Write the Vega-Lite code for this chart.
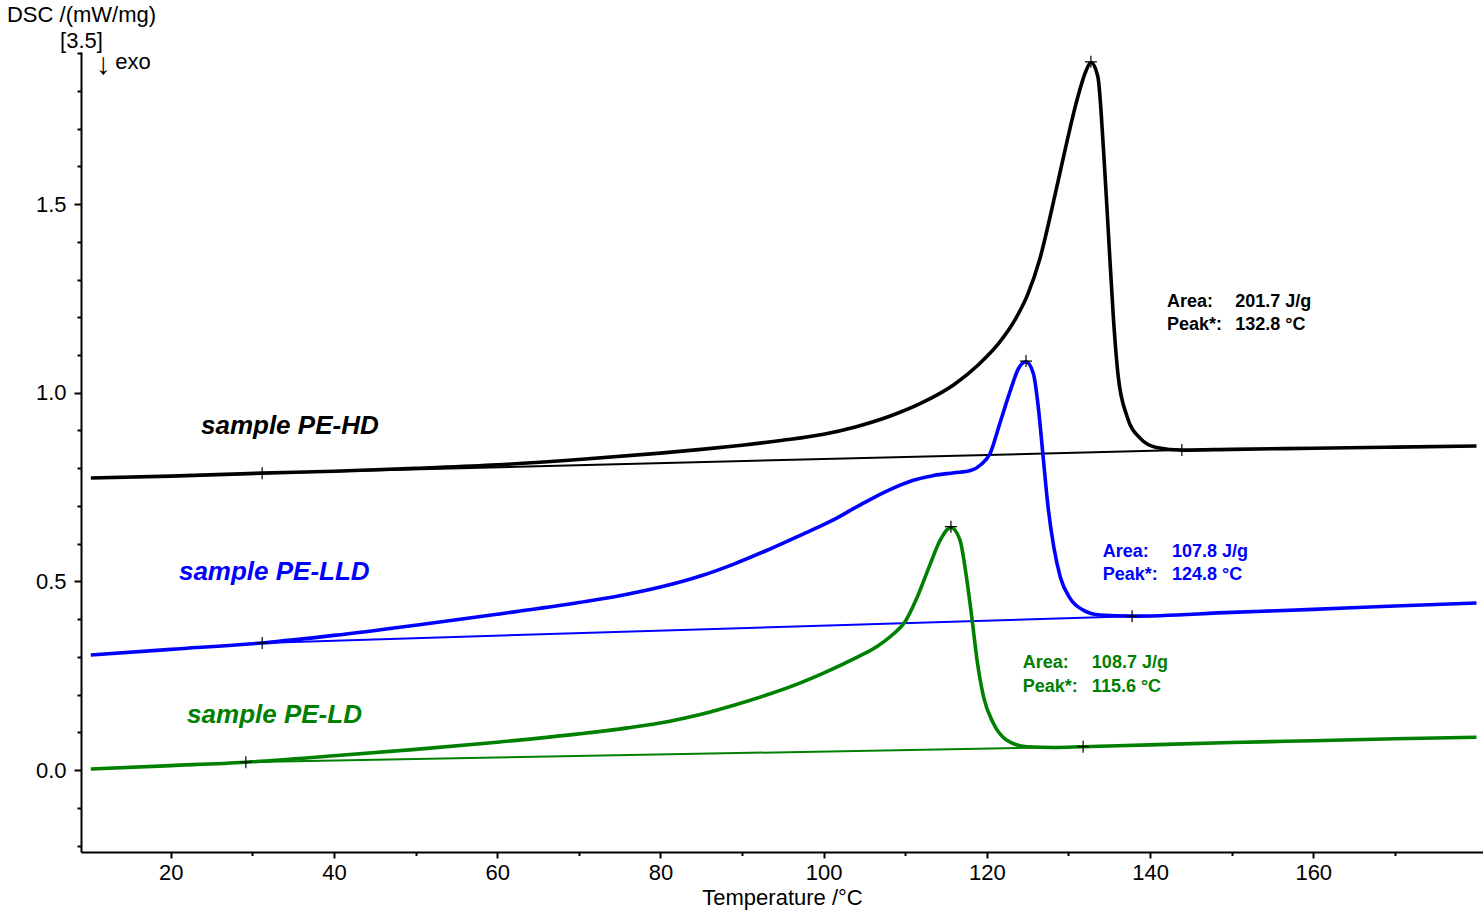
{
  "$schema": "https://vega.github.io/schema/vega-lite/v6.json",
  "width": 1402,
  "height": 800,
  "autosize": {"type": "none"},
  "padding": {"left": 81, "top": 52, "right": 0, "bottom": 59},
  "background": "white",
  "config": {"view": {"stroke": null}, "font": "Liberation Sans"},
  "datasets": {
    "curves": [
      {"series": "PE-HD", "T": 10.2, "V": 0.774},
      {"series": "PE-HD", "T": 20, "V": 0.779},
      {"series": "PE-HD", "T": 31.2, "V": 0.787},
      {"series": "PE-HD", "T": 40, "V": 0.792},
      {"series": "PE-HD", "T": 50, "V": 0.800},
      {"series": "PE-HD", "T": 60, "V": 0.809},
      {"series": "PE-HD", "T": 70, "V": 0.823},
      {"series": "PE-HD", "T": 80, "V": 0.840},
      {"series": "PE-HD", "T": 85, "V": 0.850},
      {"series": "PE-HD", "T": 90, "V": 0.861},
      {"series": "PE-HD", "T": 95, "V": 0.874},
      {"series": "PE-HD", "T": 100, "V": 0.890},
      {"series": "PE-HD", "T": 104, "V": 0.910},
      {"series": "PE-HD", "T": 108, "V": 0.937},
      {"series": "PE-HD", "T": 112, "V": 0.973},
      {"series": "PE-HD", "T": 116, "V": 1.022},
      {"series": "PE-HD", "T": 119, "V": 1.075},
      {"series": "PE-HD", "T": 121.5, "V": 1.132},
      {"series": "PE-HD", "T": 123.5, "V": 1.195},
      {"series": "PE-HD", "T": 125, "V": 1.260},
      {"series": "PE-HD", "T": 126.5, "V": 1.355},
      {"series": "PE-HD", "T": 128, "V": 1.490},
      {"series": "PE-HD", "T": 129.5, "V": 1.635},
      {"series": "PE-HD", "T": 131.0, "V": 1.772},
      {"series": "PE-HD", "T": 132.1, "V": 1.850},
      {"series": "PE-HD", "T": 132.75, "V": 1.875},
      {"series": "PE-HD", "T": 133.6, "V": 1.838},
      {"series": "PE-HD", "T": 134.3, "V": 1.643},
      {"series": "PE-HD", "T": 134.9, "V": 1.422},
      {"series": "PE-HD", "T": 135.5, "V": 1.201},
      {"series": "PE-HD", "T": 136.1, "V": 1.043},
      {"series": "PE-HD", "T": 137.2, "V": 0.936},
      {"series": "PE-HD", "T": 138.8, "V": 0.879},
      {"series": "PE-HD", "T": 140.8, "V": 0.855},
      {"series": "PE-HD", "T": 143.9, "V": 0.848},
      {"series": "PE-HD", "T": 150, "V": 0.850},
      {"series": "PE-HD", "T": 160, "V": 0.853},
      {"series": "PE-HD", "T": 170, "V": 0.856},
      {"series": "PE-HD", "T": 180, "V": 0.859},

      {"series": "PE-LLD", "T": 10.2, "V": 0.305},
      {"series": "PE-LLD", "T": 20, "V": 0.320},
      {"series": "PE-LLD", "T": 31.2, "V": 0.337},
      {"series": "PE-LLD", "T": 40, "V": 0.357},
      {"series": "PE-LLD", "T": 50, "V": 0.384},
      {"series": "PE-LLD", "T": 60, "V": 0.413},
      {"series": "PE-LLD", "T": 70, "V": 0.444},
      {"series": "PE-LLD", "T": 75, "V": 0.462},
      {"series": "PE-LLD", "T": 80, "V": 0.485},
      {"series": "PE-LLD", "T": 85, "V": 0.515},
      {"series": "PE-LLD", "T": 89, "V": 0.546},
      {"series": "PE-LLD", "T": 93, "V": 0.582},
      {"series": "PE-LLD", "T": 97, "V": 0.621},
      {"series": "PE-LLD", "T": 101, "V": 0.661},
      {"series": "PE-LLD", "T": 104.5, "V": 0.703},
      {"series": "PE-LLD", "T": 108, "V": 0.742},
      {"series": "PE-LLD", "T": 111, "V": 0.768},
      {"series": "PE-LLD", "T": 113.5, "V": 0.781},
      {"series": "PE-LLD", "T": 116, "V": 0.788},
      {"series": "PE-LLD", "T": 118, "V": 0.794},
      {"series": "PE-LLD", "T": 119.3, "V": 0.810},
      {"series": "PE-LLD", "T": 120.4, "V": 0.839},
      {"series": "PE-LLD", "T": 121.6, "V": 0.919},
      {"series": "PE-LLD", "T": 122.9, "V": 1.007},
      {"series": "PE-LLD", "T": 123.9, "V": 1.065},
      {"series": "PE-LLD", "T": 124.8, "V": 1.082},
      {"series": "PE-LLD", "T": 125.7, "V": 1.051},
      {"series": "PE-LLD", "T": 126.3, "V": 0.963},
      {"series": "PE-LLD", "T": 126.9, "V": 0.830},
      {"series": "PE-LLD", "T": 127.5, "V": 0.698},
      {"series": "PE-LLD", "T": 128.2, "V": 0.592},
      {"series": "PE-LLD", "T": 129.0, "V": 0.512},
      {"series": "PE-LLD", "T": 130.2, "V": 0.455},
      {"series": "PE-LLD", "T": 131.8, "V": 0.424},
      {"series": "PE-LLD", "T": 133.9, "V": 0.411},
      {"series": "PE-LLD", "T": 137.8, "V": 0.408},
      {"series": "PE-LLD", "T": 150, "V": 0.418},
      {"series": "PE-LLD", "T": 160, "V": 0.426},
      {"series": "PE-LLD", "T": 170, "V": 0.435},
      {"series": "PE-LLD", "T": 180, "V": 0.443},

      {"series": "PE-LD", "T": 10.2, "V": 0.003},
      {"series": "PE-LD", "T": 20, "V": 0.012},
      {"series": "PE-LD", "T": 29.2, "V": 0.021},
      {"series": "PE-LD", "T": 40, "V": 0.038},
      {"series": "PE-LD", "T": 50, "V": 0.055},
      {"series": "PE-LD", "T": 60, "V": 0.074},
      {"series": "PE-LD", "T": 70, "V": 0.096},
      {"series": "PE-LD", "T": 76, "V": 0.112},
      {"series": "PE-LD", "T": 81, "V": 0.129},
      {"series": "PE-LD", "T": 85, "V": 0.148},
      {"series": "PE-LD", "T": 89, "V": 0.172},
      {"series": "PE-LD", "T": 93, "V": 0.199},
      {"series": "PE-LD", "T": 97, "V": 0.230},
      {"series": "PE-LD", "T": 101, "V": 0.267},
      {"series": "PE-LD", "T": 104, "V": 0.298},
      {"series": "PE-LD", "T": 106.5, "V": 0.327},
      {"series": "PE-LD", "T": 108.5, "V": 0.360},
      {"series": "PE-LD", "T": 110, "V": 0.394},
      {"series": "PE-LD", "T": 111.4, "V": 0.455},
      {"series": "PE-LD", "T": 113.1, "V": 0.548},
      {"series": "PE-LD", "T": 114.3, "V": 0.610},
      {"series": "PE-LD", "T": 115.6, "V": 0.643},
      {"series": "PE-LD", "T": 116.7, "V": 0.610},
      {"series": "PE-LD", "T": 117.5, "V": 0.512},
      {"series": "PE-LD", "T": 118.2, "V": 0.398},
      {"series": "PE-LD", "T": 118.8, "V": 0.292},
      {"series": "PE-LD", "T": 119.6, "V": 0.194},
      {"series": "PE-LD", "T": 120.8, "V": 0.124},
      {"series": "PE-LD", "T": 122.4, "V": 0.080},
      {"series": "PE-LD", "T": 124.9, "V": 0.062},
      {"series": "PE-LD", "T": 128.2, "V": 0.060},
      {"series": "PE-LD", "T": 131.8, "V": 0.062},
      {"series": "PE-LD", "T": 140, "V": 0.067},
      {"series": "PE-LD", "T": 150, "V": 0.073},
      {"series": "PE-LD", "T": 160, "V": 0.078},
      {"series": "PE-LD", "T": 170, "V": 0.083},
      {"series": "PE-LD", "T": 180, "V": 0.087}
    ],
    "baselines": [
      {"series": "PE-HD", "T": 31.2, "V": 0.787},
      {"series": "PE-HD", "T": 143.9, "V": 0.848},
      {"series": "PE-LLD", "T": 31.2, "V": 0.337},
      {"series": "PE-LLD", "T": 137.8, "V": 0.408},
      {"series": "PE-LD", "T": 29.2, "V": 0.021},
      {"series": "PE-LD", "T": 131.8, "V": 0.062}
    ],
    "markers": [
      {"series": "PE-HD", "T": 31.2, "V": 0.787},
      {"series": "PE-HD", "T": 132.75, "V": 1.877},
      {"series": "PE-HD", "T": 143.9, "V": 0.848},
      {"series": "PE-LLD", "T": 31.2, "V": 0.337},
      {"series": "PE-LLD", "T": 124.8, "V": 1.084},
      {"series": "PE-LLD", "T": 137.8, "V": 0.408},
      {"series": "PE-LD", "T": 29.2, "V": 0.021},
      {"series": "PE-LD", "T": 115.6, "V": 0.645},
      {"series": "PE-LD", "T": 131.8, "V": 0.062}
    ],
    "samples": [
      {"series": "PE-HD", "text": "sample PE-HD", "T": 23.7, "V": 0.890},
      {"series": "PE-LLD", "text": "sample PE-LLD", "T": 21.0, "V": 0.504},
      {"series": "PE-LD", "text": "sample PE-LD", "T": 22.0, "V": 0.125}
    ],
    "annotations": [
      {"series": "PE-HD", "text": "Area:", "T": 142.07, "V": 1.226},
      {"series": "PE-HD", "text": "201.7 J/g", "T": 150.44, "V": 1.226},
      {"series": "PE-HD", "text": "Peak*:", "T": 142.07, "V": 1.166},
      {"series": "PE-HD", "text": "132.8 °C", "T": 150.44, "V": 1.166},
      {"series": "PE-LLD", "text": "Area:", "T": 134.2, "V": 0.565},
      {"series": "PE-LLD", "text": "107.8 J/g", "T": 142.68, "V": 0.565},
      {"series": "PE-LLD", "text": "Peak*:", "T": 134.2, "V": 0.505},
      {"series": "PE-LLD", "text": "124.8 °C", "T": 142.68, "V": 0.505},
      {"series": "PE-LD", "text": "Area:", "T": 124.4, "V": 0.2695},
      {"series": "PE-LD", "text": "108.7 J/g", "T": 132.87, "V": 0.2695},
      {"series": "PE-LD", "text": "Peak*:", "T": 124.4, "V": 0.2076},
      {"series": "PE-LD", "text": "115.6 °C", "T": 132.87, "V": 0.2076}
    ],
    "exo": [
      {"text": "exo", "T": 13.2, "V": 1.858}
    ],
    "arrow": [
      {"text": "↓", "T": 10.8, "V": 1.845}
    ]
  },
  "encoding": {
    "x": {
      "field": "T",
      "type": "quantitative",
      "scale": {"domain": [9, 180.8], "nice": false, "zero": false},
      "axis": {
        "values": [20, 30, 40, 50, 60, 70, 80, 90, 100, 110, 120, 130, 140, 150, 160, 170],
        "labelExpr": "datum.value % 20 === 0 ? datum.label : ''",
        "tickSize": {"condition": {"test": "datum.value % 20 === 0", "value": 6}, "value": 3.5},
        "grid": false,
        "domainColor": "black",
        "domainWidth": 2,
        "tickColor": "black",
        "tickWidth": 2,
        "labelFontSize": 22,
        "labelFont": "Liberation Sans",
        "labelColor": "black",
        "labelPadding": 4,
        "labelOverlap": false,
        "labelFlush": false,
        "title": "Temperature /°C",
        "titleFont": "Liberation Sans",
        "titleFontSize": 22,
        "titleFontWeight": "normal",
        "titleColor": "black",
        "titlePadding": 4
      }
    },
    "y": {
      "field": "V",
      "type": "quantitative",
      "scale": {"domain": [-0.217, 1.903], "nice": false, "zero": false},
      "axis": {
        "values": [-0.2, -0.1, 0, 0.1, 0.2, 0.3, 0.4, 0.5, 0.6, 0.7, 0.8, 0.9, 1.0, 1.1, 1.2, 1.3, 1.4, 1.5, 1.6, 1.7, 1.8, 1.9],
        "labelExpr": "abs(datum.value*2 - round(datum.value*2)) < 0.001 ? format(datum.value, '.1f') : ''",
        "tickSize": {"condition": {"test": "abs(datum.value*2 - round(datum.value*2)) < 0.001", "value": 7}, "value": 4},
        "grid": false,
        "domainColor": "black",
        "domainWidth": 2,
        "tickColor": "black",
        "tickWidth": 2,
        "labelFontSize": 22,
        "labelFont": "Liberation Sans",
        "labelColor": "black",
        "labelPadding": 8,
        "labelOverlap": false,
        "labelFlush": false,
        "title": ["DSC /(mW/mg)", "[3.5]"],
        "titleAngle": 0,
        "titleAlign": "center",
        "titleBaseline": "alphabetic",
        "titleX": 0,
        "titleY": -31,
        "titleFont": "Liberation Sans",
        "titleFontSize": 22,
        "titleFontWeight": "normal",
        "titleLineHeight": 26,
        "titleColor": "black"
      }
    }
  },
  "layer": [
    {
      "data": {"name": "baselines"},
      "mark": {"type": "line", "strokeWidth": 2},
      "encoding": {
        "color": {"field": "series", "type": "nominal", "scale": {"domain": ["PE-HD", "PE-LLD", "PE-LD"], "range": ["#000000", "#0000ff", "#008000"]}, "legend": null}
      }
    },
    {
      "data": {"name": "curves"},
      "mark": {"type": "line", "strokeWidth": 3.6, "interpolate": "monotone"},
      "encoding": {
        "color": {"field": "series", "type": "nominal", "scale": {"domain": ["PE-HD", "PE-LLD", "PE-LD"], "range": ["#000000", "#0000ff", "#008000"]}, "legend": null}
      }
    },
    {
      "data": {"name": "markers"},
      "mark": {"type": "point", "shape": "M-1,0L1,0M0,-1L0,1", "size": 144, "filled": false, "stroke": "#000000", "strokeWidth": 1.2, "opacity": 1}
    },
    {
      "data": {"name": "samples"},
      "mark": {"type": "text", "align": "left", "baseline": "alphabetic", "fontSize": 26, "fontWeight": "bold", "fontStyle": "italic", "font": "Liberation Sans"},
      "encoding": {
        "text": {"field": "text"},
        "color": {"field": "series", "type": "nominal", "scale": {"domain": ["PE-HD", "PE-LLD", "PE-LD"], "range": ["#000000", "#0000ff", "#008000"]}, "legend": null}
      }
    },
    {
      "data": {"name": "annotations"},
      "mark": {"type": "text", "align": "left", "baseline": "alphabetic", "fontSize": 18, "fontWeight": "bold", "font": "Liberation Sans"},
      "encoding": {
        "text": {"field": "text"},
        "color": {"field": "series", "type": "nominal", "scale": {"domain": ["PE-HD", "PE-LLD", "PE-LD"], "range": ["#000000", "#0000ff", "#008000"]}, "legend": null}
      }
    },
    {
      "data": {"name": "exo"},
      "mark": {"type": "text", "align": "left", "baseline": "alphabetic", "fontSize": 22, "font": "Liberation Sans", "color": "#000000"},
      "encoding": {
        "text": {"field": "text"}
      }
    },
    {
      "data": {"name": "arrow"},
      "mark": {"type": "text", "align": "left", "baseline": "alphabetic", "fontSize": 30, "font": "Liberation Sans", "color": "#000000"},
      "encoding": {
        "text": {"field": "text"}
      }
    }
  ]
}
